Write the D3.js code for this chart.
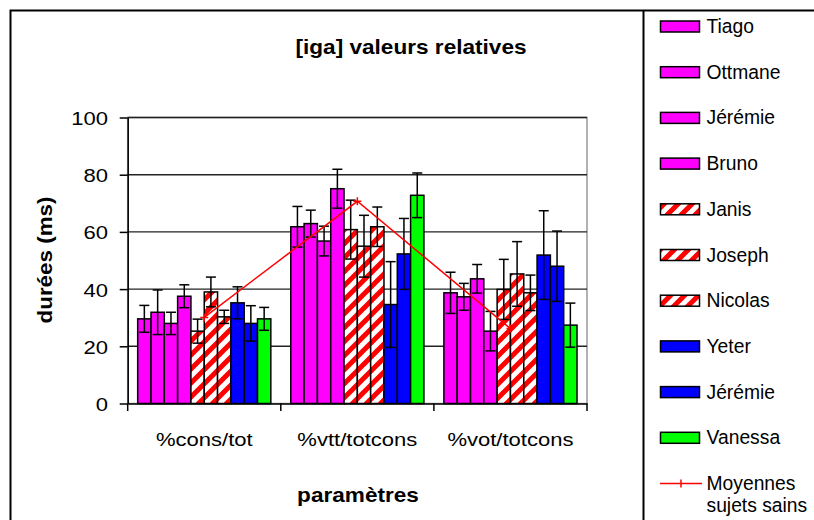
<!doctype html>
<html>
  <head>
    <meta charset="utf-8">
    <script src="https://cdn.jsdelivr.net/npm/d3@7"></script>
    <style>
      body { margin: 0; background: #fff; }
      svg { display: block; font-family: "Liberation Sans", Arial, sans-serif; }
    </style>
  </head>
  <body>
    <svg id="chart" width="814" height="520"></svg>

    <script>
      // categories on the x axis
      var categories = ["%cons/tot", "%vtt/totcons", "%vot/totcons"];

      // one entry per subject (two different Jérémie, so keyed by index)
      var subjects = ["Tiago", "Ottmane", "Jérémie", "Bruno", "Janis", "Joseph", "Nicolas", "Yeter", "Jérémie", "Vanessa"];
      var fills = ["magenta", "magenta", "magenta", "magenta", "hatch", "hatch", "hatch", "blue", "blue", "green"];

      // values, one array per subject (3 categories)
      var values = [
        [29.6, 61.8, 38.7],
        [31.9, 62.9, 37.3],
        [28.0, 56.8, 43.6],
        [37.5, 75.1, 25.3],
        [25.3, 60.8, 39.9],
        [39.0, 55.0, 45.3],
        [30.3, 61.8, 38.7],
        [35.2, 34.6, 51.9],
        [28.0, 52.3, 48.0],
        [29.6, 72.8, 27.4]
      ];
      // +/- error per subject and category
      var errors = [
        [4.7, 7.1, 7.2],
        [7.8, 4.7, 4.7],
        [3.9, 5.2, 5.0],
        [4.0, 6.8, 6.9],
        [4.2, 10.3, 10.5],
        [5.2, 10.8, 11.3],
        [2.3, 6.9, 6.2],
        [5.6, 15.0, 15.5],
        [6.2, 12.4, 12.3],
        [4.0, 7.8, 7.7]
      ];
      // "Moyennes sujets sains" line
      var means = [30.1, 70.7, 26.2];
      var yTicks = [0, 20, 40, 60, 80, 100];

      var colorOf = {
        magenta: "#ff00ff",
        blue: "#0000ff",
        green: "#00ff00",
        hatch: "url(#hatch)"
      };

      var svg = d3.select("#chart");

      // red/white upward diagonal hatch
      var pw = 14;
      var pat = svg.append("defs").append("pattern")
        .attr("id", "hatch")
        .attr("patternUnits", "userSpaceOnUse")
        .attr("width", pw)
        .attr("height", pw);
      pat.append("rect").attr("width", pw).attr("height", pw).attr("fill", "#fff");
      pat.append("path")
        .attr("d", "M-4,4 L4,-4 M0," + pw + " L" + pw + ",0 M" + (pw - 4) + "," + (pw + 4) + " L" + (pw + 4) + "," + (pw - 4))
        .attr("stroke", "#ff0000")
        .attr("stroke-width", 5);

      var plotL = 127.7, plotR = 587, plotT = 117.5, plotB = 403.5;
      var sx = 1.19; // text in the picture is a bit wider than Arial

      var x = d3.scaleBand().domain(categories).range([plotL, plotR]);
      var xi = d3.scaleBand().domain(d3.range(subjects.length))
        .range([0, x.bandwidth()])
        .paddingInner(0)
        .paddingOuter(0.75);
      var y = d3.scaleLinear().domain([0, 100]).range([plotB, plotT]);

      // little helper for stretched text
      function label(parent, tx, ty, str, opts) {
        opts = opts || {};
        var g = parent.append("g")
          .attr("transform", "translate(" + tx + "," + ty + ")" + (opts.rotate ? " rotate(" + opts.rotate + ")" : "") + " scale(" + (opts.sx || sx) + ",1)");
        return g.append("text")
          .attr("text-anchor", opts.anchor || "middle")
          .attr("font-size", opts.size || 19)
          .attr("font-weight", opts.bold ? "bold" : "normal")
          .attr("fill", "#000")
          .text(str);
      }

      // outer frame and legend frame
      svg.append("path")
        .attr("d", "M10.5,522 L10.5,10.5 L816,10.5 M643.5,10.5 L643.5,522")
        .attr("fill", "none").attr("stroke", "#000").attr("stroke-width", 2);

      // plot area border
      svg.append("rect")
        .attr("x", plotL).attr("y", plotT)
        .attr("width", plotR - plotL).attr("height", plotB - plotT)
        .attr("fill", "none").attr("stroke", "#999").attr("stroke-width", 1.5);

      // gridlines
      svg.append("g").selectAll("line")
        .data(yTicks.filter(function(d) { return d > 0; }))
        .enter().append("line")
          .attr("x1", plotL).attr("x2", plotR)
          .attr("y1", function(d) { return y(d); })
          .attr("y2", function(d) { return y(d); })
          .attr("stroke", "#222").attr("stroke-width", 1.4);

      // bars
      var bars = svg.append("g");
      subjects.forEach(function(name, i) {
        bars.selectAll(null)
          .data(values[i])
          .enter().append("rect")
            .attr("x", function(d, j) { return x(categories[j]) + xi(i); })
            .attr("y", function(d) { return y(d); })
            .attr("width", xi.bandwidth())
            .attr("height", function(d) { return y(0) - y(d); })
            .attr("fill", colorOf[fills[i]])
            .attr("stroke", "#000")
            .attr("stroke-width", 1.5);
      });

      // error bars
      var errs = svg.append("g").attr("stroke", "#000").attr("stroke-width", 1.5);
      subjects.forEach(function(name, i) {
        values[i].forEach(function(v, j) {
          var cx = x(categories[j]) + xi(i) + xi.bandwidth() / 2;
          var hi = y(v + errors[i][j]), lo = y(v - errors[i][j]);
          errs.append("line").attr("x1", cx).attr("x2", cx).attr("y1", hi).attr("y2", lo);
          errs.append("line").attr("x1", cx - 5).attr("x2", cx + 5).attr("y1", hi).attr("y2", hi);
          errs.append("line").attr("x1", cx - 5).attr("x2", cx + 5).attr("y1", lo).attr("y2", lo);
        });
      });

      // mean line
      var meanLine = d3.line()
        .x(function(d, j) { return x(categories[j]) + x.bandwidth() / 2; })
        .y(function(d) { return y(d); });
      svg.append("path")
        .datum(means)
        .attr("d", meanLine)
        .attr("fill", "none").attr("stroke", "#ff0000").attr("stroke-width", 1.5);
      svg.append("g").selectAll("path")
        .data(means)
        .enter().append("path")
          .attr("d", function(d, j) {
            var cx = x(categories[j]) + x.bandwidth() / 2, cy = y(d);
            return "M" + (cx - 4) + "," + cy + "H" + (cx + 4) + "M" + cx + "," + (cy - 4) + "V" + (cy + 4);
          })
          .attr("stroke", "#ff0000").attr("stroke-width", 1.5);

      // axes
      var yAxis = d3.axisLeft(y).tickValues(yTicks).tickSize(8).tickSizeOuter(0).tickFormat("");
      svg.append("g")
        .attr("transform", "translate(" + plotL + ",0)")
        .call(yAxis)
        .call(function(g) {
          g.select(".domain").attr("stroke", "#000").attr("stroke-width", 1.5);
          g.selectAll(".tick line").attr("stroke", "#000").attr("stroke-width", 1.5);
        });
      yTicks.forEach(function(t) {
        label(svg, 108, y(t) + 7.5, String(t), { anchor: "end", size: 19, sx: 1.16 });
      });

      var xAxis = d3.axisBottom(x).tickSize(0).tickSizeOuter(0).tickFormat("");
      svg.append("g")
        .attr("transform", "translate(0," + plotB + ")")
        .call(xAxis)
        .call(function(g) {
          g.select(".domain").attr("stroke", "#000").attr("stroke-width", 1.5);
          g.selectAll(".tick").remove();
        });
      // category boundary ticks
      svg.append("g").selectAll("line")
        .data(categories.concat([null]))
        .enter().append("line")
          .attr("x1", function(d, j) { return plotL + j * x.step(); })
          .attr("x2", function(d, j) { return plotL + j * x.step(); })
          .attr("y1", plotB).attr("y2", plotB + 7.5)
          .attr("stroke", "#000").attr("stroke-width", 1.5);

      categories.forEach(function(c) {
        label(svg, x(c) + x.bandwidth() / 2, 446, c, { size: 19, sx: 1.16 });
      });

      // titles
      label(svg, 411, 54, "[iga] valeurs relatives", { bold: true, size: 20, sx: 1.13 });
      label(svg, 358, 502, "paramètres", { bold: true, size: 20, sx: 1.13 });
      label(svg, 52, 260, "durées (ms)", { bold: true, size: 20, sx: 1.12, rotate: -90 });

      // legend
      var legend = svg.append("g");
      var step = 45.7, ly0 = 26.5;
      subjects.forEach(function(name, i) {
        var cy = ly0 + i * step;
        legend.append("rect")
          .attr("x", 660.5).attr("y", cy - 5.5)
          .attr("width", 39).attr("height", 11)
          .attr("fill", colorOf[fills[i]])
          .attr("stroke", "#000").attr("stroke-width", 1.5);
        label(legend, 706.5, cy + 6.5, name, { anchor: "start", size: 19.3, sx: 1 });
      });
      var my = ly0 + subjects.length * step;
      legend.append("line")
        .attr("x1", 660).attr("x2", 702).attr("y1", my).attr("y2", my)
        .attr("stroke", "#ff0000").attr("stroke-width", 1.5);
      legend.append("line")
        .attr("x1", 681).attr("x2", 681).attr("y1", my - 4).attr("y2", my + 4)
        .attr("stroke", "#ff0000").attr("stroke-width", 1.5);
      label(legend, 706.5, my + 6, "Moyennes", { anchor: "start", size: 19.3, sx: 1 });
      label(legend, 706.5, my + 28, "sujets sains", { anchor: "start", size: 19.3, sx: 1 });
    </script>
  </body>
</html>
